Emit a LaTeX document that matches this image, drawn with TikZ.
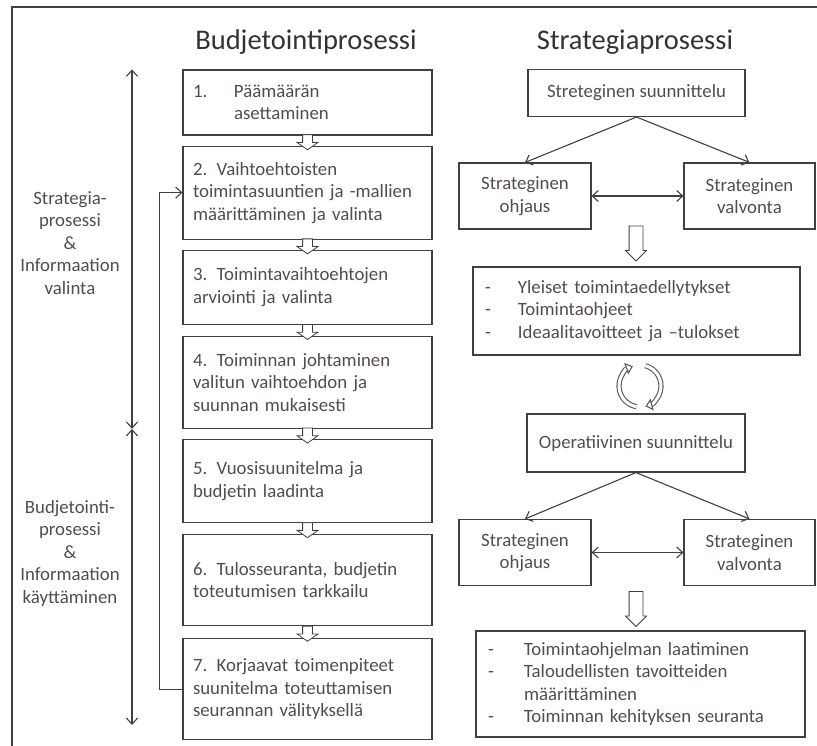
\documentclass[tikz,border=0pt]{standalone}
\usepackage{fontspec}
\setmainfont{Carlito}
\usetikzlibrary{arrows.meta, positioning, shapes.arrows, calc}

\definecolor{txtgray}{RGB}{84,74,86}
\definecolor{linegray}{RGB}{64,64,64}

\begin{document}
\begin{tikzpicture}[
  x=1pt, y=1pt,
  node distance=10pt,
  font=\fontsize{18.8}{22.5}\selectfont,
  box/.style={rectangle, draw=linegray, line width=1.1pt, text=txtgray, inner xsep=10pt, inner ysep=0pt},
  stepbox/.style={box, text width=229pt, align=left},
  smallbox/.style={box, minimum width=132pt, minimum height=66pt, align=center},
  listbox/.style={box, inner xsep=12pt, align=left},
  title/.style={font=\fontsize{28.5}{32}\selectfont, text=black!80},
  side/.style={text=txtgray, align=center},
  arr/.style={-{Straight Barb[length=6pt,width=11pt]}, linegray, line width=1.1pt},
  darr/.style={{Straight Barb[length=6pt,width=11pt]}-{Straight Barb[length=6pt,width=11pt]}, linegray, line width=1.1pt},
  hollow/.style={single arrow, draw=linegray, fill=white, line width=0.8pt, shape border rotate=270},
  smallarrow/.style={hollow, inner sep=4.5pt, minimum height=15pt, single arrow head extend=5.5pt, single arrow tip angle=110},
  bigarrow/.style={hollow, inner sep=6.5pt, minimum height=35pt, single arrow head extend=3.5pt, single arrow tip angle=90},
  cyc/.style={draw=gray!70!black, line width=1.1pt, double=white, double distance=3pt, -{Triangle[open, length=7pt, width=12pt]}},
]
\useasboundingbox (0,0) rectangle (817,-746);
\draw[linegray, line width=1.2pt] (12,-746) |- (817,-7);

% budjetointiprosessi
\node[title] (btitle) at (306,-42) {Budjetointiprosessi};
\node[stepbox, minimum height=65pt] (b1) at (307.5,-102.5) {\makebox[41pt][l]{1.}Päämäärän\\\hspace*{41pt}asettaminen};
\node[stepbox, minimum height=93pt, below=10pt of b1] (b2) {2. Vaihtoehtoisten\\toimintasuuntien ja -mallien\\määrittäminen ja valinta};
\node[stepbox, minimum height=74pt, below=10pt of b2] (b3) {3. Toimintavaihtoehtojen\\arviointi ja valinta};
\node[stepbox, minimum height=92pt, below=11pt of b3] (b4) {4. Toiminnan johtaminen\\valitun vaihtoehdon ja\\suunnan mukaisesti};
\node[stepbox, minimum height=83pt, below=10pt of b4] (b5) {5. Vuosisuunitelma ja\\budjetin laadinta};
\node[stepbox, minimum height=91pt, below=11pt of b5] (b6) {6. Tulosseuranta, budjetin\\toteutumisen tarkkailu};
\node[stepbox, minimum height=101pt, below=12pt of b6] (b7) {7. Korjaavat toimenpiteet\\suunitelma toteuttamisen\\seurannan välityksellä};

\node[smallarrow] (h12) at ($(b1.south)!0.5!(b2.north)$) {};
\node[smallarrow] (h23) at ($(b2.south)!0.5!(b3.north)$) {};
\node[smallarrow] (h34) at ($(b3.south)!0.5!(b4.north)$) {};
\node[smallarrow] (h45) at ($(b4.south)!0.5!(b5.north)$) {};
\node[smallarrow] (h56) at ($(b5.south)!0.5!(b6.north)$) {};
\node[smallarrow] (h67) at ($(b6.south)!0.5!(b7.north)$) {};

\draw[arr] (b7.west) -- ++(-23,0) |- (b2.west);

% vaiheet vasemmalla
\coordinate (up1) at (132,0 |- b1.north);
\coordinate (lo1) at (132,0 |- b4.south);
\coordinate (up2) at (132,-429);
\coordinate (lo2) at (132,-725);
\draw[darr] (up1) -- (lo1);
\draw[darr] (up2) -- (lo2);
\node[side] (lab1) at (70,-243) {Strategia-\\prosessi\\\&\\Informaation\\valinta};
\node[side] (lab2) at (70,-553) {Budjetointi-\\prosessi\\\&\\Informaation\\käyttäminen};

% strategiaprosessi
\node[title] (stitle) at (635,-42) {Strategiaprosessi};
\node[box, minimum width=217pt, minimum height=47pt] (ss) at (636.5,-93) {Streteginen suunnittelu};
\node[smallbox] (so1) at (525,-196) {Strateginen\\ohjaus};
\node[smallbox, minimum width=131pt] (sv1) at (749.5,-196) {Strateginen\\valvonta};
\draw[arr] (ss.south) -- (so1.north);
\draw[arr] (ss.south) -- (sv1.north);
\draw[darr] (so1) -- (sv1);
\node[bigarrow] (h1) at (636,-240) {};
\node[listbox, text width=303pt, minimum height=88pt] (l1) at (636.5,-311) {\makebox[33pt][l]{-}Yleiset toimintaedellytykset\\\makebox[33pt][l]{-}Toimintaohjeet\\\makebox[33pt][l]{-}Ideaalitavoitteet ja –tulokset};

\coordinate (cy) at (640,-386);
\draw[cyc] ([shift={(260:21)}]cy) arc[start angle=260, end angle=110, radius=21];
\draw[cyc] ([shift={(75:21)}]cy) arc[start angle=75, end angle=-75, radius=21];

\node[box, minimum width=218pt, minimum height=58pt] (os) at (636,-443) {Operatiivinen suunnittelu};
\node[smallbox] (so2) at (525,-552.5) {Strateginen\\ohjaus};
\node[smallbox, minimum width=131pt] (sv2) at (749.5,-552.5) {Strateginen\\valvonta};
\draw[arr] (os.south) -- (so2.north);
\draw[arr] (os.south) -- (sv2.north);
\draw[darr] (so2) -- (sv2);
\node[bigarrow] (h2) at (636,-605.5) {};
\node[listbox, text width=305pt, minimum height=106pt] (l2) at (640.5,-684) {\makebox[36pt][l]{-}Toimintaohjelman laatiminen\\\makebox[36pt][l]{-}Taloudellisten tavoitteiden\\\hspace*{36pt}määrittäminen\\\makebox[36pt][l]{-}Toiminnan kehityksen seuranta};
\end{tikzpicture}
\end{document}
